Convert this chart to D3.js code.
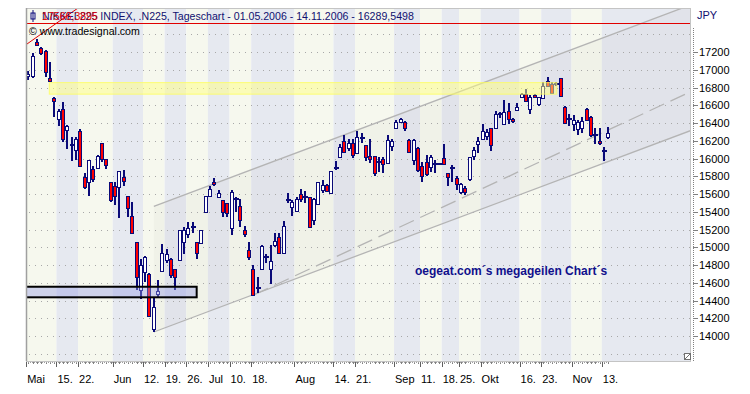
<!DOCTYPE html>
<html lang="de">
<head>
<meta charset="UTF-8">
<title>NIKKEI 225 - Tageschart</title>
<script src="https://cdn.jsdelivr.net/npm/d3@7"></script>
<style>
  body { margin: 0; background: #fff; }
  text { font-family: 'Liberation Sans', Arial, sans-serif; }
  .axis text { font-size: 11px; fill: #000; }
</style>
</head>
<body>
<script>
// Japanese exchange holidays inside the period
const holidays = ['2006-05-03', '2006-05-04', '2006-05-05', '2006-07-17', '2006-09-18', '2006-10-09', '2006-11-03'];
const fmt = d3.timeFormat('%Y-%m-%d');
const days = d3.timeDay.range(new Date(2006, 4, 1), new Date(2006, 10, 15))
  .filter(d => d.getDay() % 6 !== 0 && !holidays.includes(fmt(d)))
  .map(fmt);

// OHLC, one entry per trading day
const open = [16935,16930,17310,17240,17210,16905,16685,16440,16555,16320,16150,16105,16310,15790,15740,15880,15900,16170,15990,15730,
  15685,15675,15790,15575,15350,15060,14520,14725,14695,14075,14475,14725,14855,14865,14760,14865,15065,15150,15235,15060,
  15045,15400,15575,15740,15570,15530,15495,15215,15550,15470,15195,14970,14760,14540,14755,14890,14750,15025,15120,14945,
  15530,15455,15410,15595,15565,15565,15305,15485,15645,15700,15610,15880,16020,16200,16115,16170,16060,16225,16150,16030,
  16030,15955,16000,15955,16140,16340,16410,16410,16210,15985,16115,15910,15955,15900,15940,15940,16010,15835,15900,15775,
  15615,15665,15765,16030,16160,16225,16260,16340,16340,16500,16385,16540,16440,16540,16695,16725,16555,16715,16610,16680,
  16875,16845,16840,16905,16585,16445,16395,16330,16340,16555,16470,16265,16195,16090,16240];
const high = [16990,17190,17345,17260,17225,17090,16690,16555,16640,16375,16245,16240,16330,15840,15985,15915,16040,16170,16000,15730,
  15740,15860,15865,15575,15515,15060,14865,14900,14705,14445,14630,15035,14975,14875,14760,15200,15230,15280,15290,15060,
  15200,15575,15685,15780,15645,15530,15495,15645,15565,15540,15240,15055,14800,14670,15025,14920,15025,15155,15165,15295,
  15610,15530,15565,15655,15635,15565,15550,15730,15760,15715,15860,15975,16165,16265,16215,16215,16315,16285,16150,16225,
  16030,16020,16015,16265,16215,16435,16455,16425,16215,16215,16125,15965,16040,16040,15985,15945,16165,15840,15925,15805,
  15720,15690,16015,16125,16245,16385,16330,16340,16540,16520,16660,16630,16455,16630,16735,16780,16715,16725,16695,16865,
  16915,16860,16860,16905,16590,16500,16490,16435,16470,16565,16480,16340,16340,16125,16350];
const low = [16890,16905,17265,17165,16915,16865,16470,16370,16190,16105,15975,15985,15900,15655,15580,15730,15890,15955,15885,15515,
  15475,15335,15685,15340,15155,14520,14415,14610,14210,14045,14445,14725,14820,14650,14515,14855,14925,15100,15155,14870,
  15035,15400,15575,15685,15550,15345,15340,15140,15400,15230,15120,14855,14470,14490,14745,14820,14585,15000,14945,14930,
  15500,15350,15410,15515,15500,15225,15250,15475,15610,15625,15595,15875,16010,16065,16090,16010,16060,16180,15975,15945,
  15805,15850,15840,15945,16090,16330,16395,16305,16060,15925,15850,15740,15805,15850,15835,15935,15935,15690,15740,15645,
  15600,15590,15750,15985,16065,16210,16210,16090,16340,16455,16385,16390,16395,16530,16690,16640,16500,16680,16595,16670,
  16810,16740,16820,16705,16385,16370,16310,16265,16285,16425,16240,16160,16150,15975,16225];
const close = [16955,17155,17275,17185,16970,16875,16650,16535,16215,16365,16155,16225,15915,15675,15985,15765,16030,15985,15925,15530,
  15570,15860,15740,15445,15155,14670,14800,14890,14220,14325,14505,14930,14925,14685,14675,15200,15195,15215,15230,14940,
  15195,15575,15655,15720,15610,15390,15385,15625,15545,15315,15155,14895,14470,14535,15015,14885,14845,15070,14945,15245,
  15535,15510,15540,15540,15575,15225,15540,15730,15700,15635,15860,15895,16130,16075,16170,16040,16240,16230,16020,16000,
  15835,15960,15945,16210,16200,16410,16440,16340,16075,16210,15865,15795,15820,16015,15935,15940,15945,15790,15895,15710,
  15710,15625,16015,16095,16195,16310,16300,16150,16500,16495,16520,16455,16415,16575,16725,16650,16695,16690,16690,16815,
  16815,16740,16835,16705,16405,16440,16435,16410,16420,16435,16265,16260,16170,16085,16290];

// date axis: labelled days and their texts
const tickDays = ['2006-05-01','2006-05-15','2006-05-22','2006-06-01','2006-06-12','2006-06-19','2006-06-26','2006-07-03',
  '2006-07-10','2006-07-18','2006-08-01','2006-08-14','2006-08-21','2006-09-01','2006-09-11','2006-09-19','2006-09-25',
  '2006-10-02','2006-10-16','2006-10-23','2006-11-01','2006-11-13'];
const tickLabels = ['Mai','15.','22.','Jun','12.','19.','26.','Jul','10.','18.','Aug','14.','21.','Sep','11.','18.','25.',
  'Okt','16.','23.','Nov','13.'];

// price axis
const priceTicks = [14000,14200,14400,14600,14800,15000,15200,15400,15600,15800,16000,16200,16400,16600,16800,17000,17200];
const gridLevels = [13800, ...priceTicks, 17400];

const W = 750, H = 394;
const plot = { left: 26, right: 691, top: 8, bottom: 361 };
const n = days.length;

const xi = d3.scaleLinear().domain([0, n - 1]).range([28.3, 608.3]);
const y = d3.scaleLinear().domain([14000, 17200]).range([336, 52]);

const svg = d3.select('body').append('svg').attr('width', W).attr('height', H);
svg.append('rect').attr('width', W).attr('height', H).attr('fill', '#fff');

svg.append('clipPath').attr('id', 'clip').append('rect')
  .attr('x', plot.left).attr('y', plot.top)
  .attr('width', plot.right - plot.left).attr('height', plot.bottom - plot.top);

const g = svg.append('g').attr('clip-path', 'url(#clip)');

// alternating bands between labelled ticks
const tickIdx = tickDays.map(d => days.indexOf(d));
const edges = tickIdx.map(i => xi(i - 0.5)).concat([plot.right]);
edges[0] = plot.left;
g.selectAll('rect.band').data(edges.slice(0, -1)).join('rect')
  .attr('class', 'band')
  .attr('x', d => d)
  .attr('y', plot.top)
  .attr('width', (d, k) => edges[k + 1] - d)
  .attr('height', plot.bottom - plot.top)
  .attr('fill', (d, k) => k % 2 ? '#e6e9f0' : '#f6f8ee');

// regression channel
const chStart = 29, chLow = 14045, chSlope = 18.3, chWidth = 1416;
const chEnd = xi.invert(plot.right);
const lowerAt = i => chLow + chSlope * (i - chStart);
g.append('path')
  .attr('d', `M${xi(chStart)},${y(lowerAt(chStart))}L${xi(chEnd)},${y(lowerAt(chEnd))}` +
    `L${xi(chEnd)},${y(lowerAt(chEnd) + chWidth)}L${xi(chStart)},${y(lowerAt(chStart) + chWidth)}Z`)
  .attr('fill', 'rgba(90,90,90,0.04)');

// dotted grid
g.selectAll('line.grid').data(gridLevels).join('line')
  .attr('x1', plot.left + 3).attr('x2', plot.right)
  .attr('y1', d => Math.round(y(d)) + 0.5).attr('y2', d => Math.round(y(d)) + 0.5)
  .attr('stroke', '#a8a8a8').attr('stroke-dasharray', '1,5');

// channel lines
[0, chWidth].forEach(off => {
  g.append('line')
    .attr('x1', xi(chStart)).attr('y1', y(lowerAt(chStart) + off))
    .attr('x2', xi(chEnd)).attr('y2', y(lowerAt(chEnd) + off))
    .attr('stroke', '#b4b4b4').attr('stroke-width', 1.3);
});
// dashed trend line
const dStart = 52, dLow = 14460, dSlope = 22.7;
g.append('line')
  .attr('x1', xi(dStart)).attr('y1', y(dLow))
  .attr('x2', xi(chEnd)).attr('y2', y(dLow + dSlope * (chEnd - dStart)))
  .attr('stroke', '#b4b4b4').attr('stroke-width', 1.3).attr('stroke-dasharray', '16,7');

// red resistance line and red trend line
const redLevel = 17525;
g.append('line')
  .attr('x1', plot.left).attr('x2', plot.right)
  .attr('y1', Math.round(y(redLevel)) + 0.5).attr('y2', Math.round(y(redLevel)) + 0.5)
  .attr('stroke', '#e00000');
g.append('line')
  .attr('x1', xi(-0.3)).attr('y1', y(17290))
  .attr('x2', xi(11.5)).attr('y2', y(17696))
  .attr('stroke', '#e00000');

// candles
const idx = d3.range(n);
const navy = '#0a0a78';
const cx = i => Math.round(xi(i));
const cg = g.append('g').attr('shape-rendering', 'crispEdges');
cg.selectAll('rect.wick').data(idx).join('rect')
  .attr('x', i => cx(i) - 1).attr('width', 2)
  .attr('y', i => y(high[i])).attr('height', i => Math.max(1, y(low[i]) - y(high[i])))
  .attr('fill', navy);
const isDoji = i => Math.abs(y(open[i]) - y(close[i])) < 1.5;
cg.selectAll('rect.body').data(idx.filter(i => !isDoji(i))).join('rect')
  .attr('x', i => cx(i) - 1.5).attr('width', 3)
  .attr('y', i => Math.round(y(Math.max(open[i], close[i]))) + 0.5)
  .attr('height', i => Math.round(Math.abs(y(open[i]) - y(close[i]))))
  .attr('fill', i => close[i] < open[i] ? '#ff0000' : '#fff')
  .attr('stroke', navy).attr('stroke-width', 1);
cg.selectAll('rect.doji').data(idx.filter(isDoji)).join('rect')
  .attr('x', i => cx(i) - 2).attr('width', 5)
  .attr('y', i => Math.round(y((open[i] + close[i]) / 2)) - 1).attr('height', 2)
  .attr('fill', navy);

// highlighted zones
g.append('rect')
  .attr('x', xi(4.85)).attr('width', xi(122.1) - xi(4.85))
  .attr('y', y(16855)).attr('height', y(16725) - y(16855))
  .attr('fill', 'rgba(255,255,130,0.5)').attr('stroke', 'rgba(255,255,90,0.8)');
g.append('rect')
  .attr('x', plot.left).attr('width', xi(38.9) - plot.left)
  .attr('y', y(14555)).attr('height', y(14436) - y(14555))
  .attr('fill', 'rgba(150,158,228,0.42)').attr('stroke', '#000').attr('stroke-width', 2);

// frame
svg.append('rect')
  .attr('x', plot.left + 0.5).attr('y', plot.top + 0.5)
  .attr('width', plot.right - plot.left - 1).attr('height', plot.bottom - plot.top)
  .attr('fill', 'none').attr('stroke', '#c4c4c4');
svg.append('line').attr('x1', plot.left + 0.5).attr('x2', plot.left + 0.5)
  .attr('y1', plot.top).attr('y2', plot.bottom).attr('stroke', '#a0a0a0').attr('stroke-width', 1.5);

// header
svg.append('rect').attr('x', 31).attr('y', 13).attr('width', 4).attr('height', 6)
  .attr('fill', '#fff').attr('stroke', navy);
svg.append('line').attr('x1', 33).attr('x2', 33).attr('y1', 10).attr('y2', 22).attr('stroke', navy);
svg.append('text').attr('x', 42).attr('y', 20)
  .attr('font-size', '10.6px').attr('fill', '#101070')
  .text('NIKKEI 225 INDEX, .N225, Tageschart - 01.05.2006 - 14.11.2006 - 16289,5498');
svg.append('text').attr('x', 42).attr('y', 20)
  .attr('font-size', '10.6px').attr('fill', '#e00000')
  .text('17566,3895');
svg.append('text').attr('x', 29).attr('y', 35)
  .attr('font-size', '10.6px').attr('fill', '#000')
  .text('\u00a9 www.tradesignal.com');
svg.append('text').attr('x', 697).attr('y', 19)
  .attr('font-size', '11px').attr('fill', '#101070').text('JPY');

svg.append('text').attr('x', 415).attr('y', 275)
  .attr('font-size', '12px').attr('font-weight', 'bold').attr('fill', '#10108c')
  .text('oegeat.com\u00b4s megageilen Chart\u00b4s');

// price axis
const yAxis = svg.append('g').attr('class', 'axis');
yAxis.append('line').attr('x1', 693.5).attr('x2', 693.5).attr('y1', plot.top + 20).attr('y2', plot.bottom)
  .attr('stroke', '#808080').attr('stroke-dasharray', '1,1');
yAxis.selectAll('line.tk').data(priceTicks).join('line')
  .attr('x1', 693).attr('x2', 698)
  .attr('y1', d => Math.round(y(d)) + 0.5).attr('y2', d => Math.round(y(d)) + 0.5)
  .attr('stroke', '#808080');
yAxis.selectAll('text').data(priceTicks).join('text')
  .attr('x', 699).attr('y', d => y(d) + 4)
  .text(d => d);

// date axis
const xAxis = svg.append('g').attr('class', 'axis');
xAxis.selectAll('line.minor').data(idx).join('line')
  .attr('x1', i => cx(i) + 0.5).attr('x2', i => cx(i) + 0.5)
  .attr('y1', 362).attr('y2', 364)
  .attr('stroke', '#808080');
xAxis.append('line').attr('x1', plot.left).attr('x2', xi(n - 1)).attr('y1', 362.5).attr('y2', 362.5)
  .attr('stroke', '#a0a0a0').attr('stroke-dasharray', '1,1');
xAxis.selectAll('line.major').data(tickIdx).join('line')
  .attr('x1', i => Math.round(xi(i - 0.5)) + 0.5).attr('x2', i => Math.round(xi(i - 0.5)) + 0.5)
  .attr('y1', 362).attr('y2', 367)
  .attr('stroke', '#606060');
xAxis.selectAll('text').data(tickIdx).join('text')
  .attr('x', i => Math.max(plot.left + 1, xi(i - 0.5) + 1))
  .attr('y', 383)
  .attr('font-size', '10.5px')
  .text((i, k) => tickLabels[k]);

// resize corner
svg.append('rect').attr('x', 684.5).attr('y', 353.5).attr('width', 6).attr('height', 6)
  .attr('fill', '#fff').attr('stroke', '#707070');
svg.append('line').attr('x1', 685).attr('y1', 359).attr('x2', 690).attr('y2', 354).attr('stroke', '#707070');
</script>
</body>
</html>
